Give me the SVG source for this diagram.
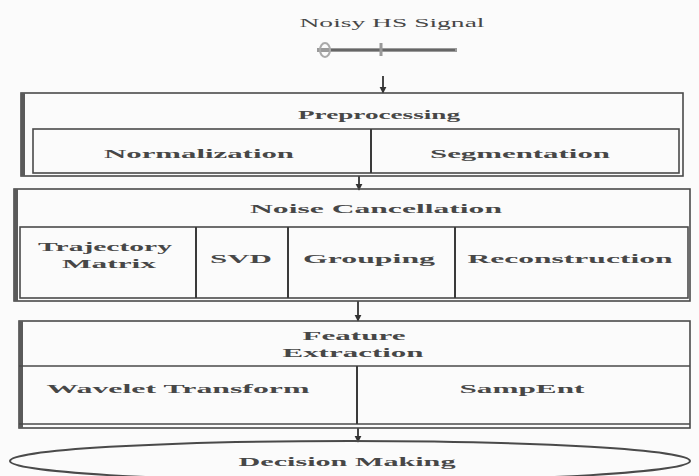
<svg xmlns="http://www.w3.org/2000/svg" width="699" height="476" viewBox="0 0 699 476">
<style>
.box{fill:none;stroke:#4a4a4a;stroke-width:1.6}
.edge{stroke:#5a5a5a;stroke-width:4}
.div{stroke:#3a3a3a;stroke-width:2}
.t{font-family:"Liberation Serif",serif;font-weight:bold;font-size:13px;fill:#474747;text-anchor:middle}
.c{stroke:#333;stroke-width:1.8;fill:none}
</style>
<defs>
<marker id="ah" viewBox="0 0 10 10" refX="9" refY="5" markerWidth="4" markerHeight="4" orient="auto"><path d="M0,0 L10,5 L0,10 z" fill="#333"/></marker>
</defs>
<rect width="699" height="476" fill="#fbfbfb"/>

<g id="signal">
<text class="t" x="392" y="27" textLength="185" lengthAdjust="spacingAndGlyphs" style="font-weight:normal">Noisy HS Signal</text>
<line x1="317" y1="50" x2="457" y2="50" stroke="#9a9a9a" stroke-width="4"/>
<line x1="330" y1="50" x2="455" y2="50" stroke="#555" stroke-width="1.5"/>
<ellipse cx="325" cy="50" rx="5" ry="7" fill="none" stroke="#aaa" stroke-width="2"/>
<line x1="381" y1="43" x2="381" y2="56" stroke="#999" stroke-width="3"/>
</g>

<g id="connectors">
<line class="c" x1="383" y1="76" x2="383" y2="93" marker-end="url(#ah)"/>
<line class="c" x1="359" y1="176" x2="359" y2="190" marker-end="url(#ah)"/>
<line class="c" x1="358" y1="301" x2="358" y2="321" marker-end="url(#ah)"/>
<line class="c" x1="358" y1="428" x2="358" y2="442" marker-end="url(#ah)"/>
</g>

<g id="preprocessing">
<rect class="box" x="21" y="93" width="662" height="83"/>
<line class="edge" x1="23" y1="93" x2="23" y2="176"/>
<rect class="box" x="33" y="129" width="646" height="44"/>
<line class="div" x1="371" y1="129" x2="371" y2="173"/>
<text class="t" x="379" y="119" textLength="162" lengthAdjust="spacingAndGlyphs">Preprocessing</text>
<text class="t" x="199" y="158" textLength="190" lengthAdjust="spacingAndGlyphs">Normalization</text>
<text class="t" x="520" y="158" textLength="180" lengthAdjust="spacingAndGlyphs">Segmentation</text>
</g>

<g id="noise-cancellation">
<rect class="box" x="14" y="189" width="676" height="112"/>
<line class="edge" x1="16" y1="189" x2="16" y2="301"/>
<rect class="box" x="20" y="227" width="668" height="71"/>
<line class="div" x1="196" y1="227" x2="196" y2="298"/>
<line class="div" x1="288" y1="227" x2="288" y2="298"/>
<line class="div" x1="455" y1="227" x2="455" y2="298"/>
<text class="t" x="376" y="213" textLength="252" lengthAdjust="spacingAndGlyphs">Noise Cancellation</text>
<text class="t" x="105" y="251" textLength="134" lengthAdjust="spacingAndGlyphs">Trajectory</text>
<text class="t" x="109" y="268" textLength="94" lengthAdjust="spacingAndGlyphs">Matrix</text>
<text class="t" x="241" y="263" textLength="62" lengthAdjust="spacingAndGlyphs">SVD</text>
<text class="t" x="369" y="263" textLength="132" lengthAdjust="spacingAndGlyphs">Grouping</text>
<text class="t" x="570" y="263" textLength="205" lengthAdjust="spacingAndGlyphs">Reconstruction</text>
</g>

<g id="feature-extraction">
<rect class="box" x="19" y="321" width="671" height="107"/>
<line class="edge" x1="21" y1="321" x2="21" y2="428"/>
<line class="box" x1="19" y1="366" x2="690" y2="366"/>
<line class="box" x1="19" y1="424" x2="690" y2="424"/>
<line class="div" x1="357" y1="366" x2="357" y2="424"/>
<text class="t" x="354" y="340" textLength="103" lengthAdjust="spacingAndGlyphs">Feature</text>
<text class="t" x="353" y="357" textLength="141" lengthAdjust="spacingAndGlyphs">Extraction</text>
<text class="t" x="178" y="393" textLength="263" lengthAdjust="spacingAndGlyphs">Wavelet Transform</text>
<text class="t" x="522" y="393" textLength="125" lengthAdjust="spacingAndGlyphs">SampEnt</text>
</g>

<g id="decision-making">
<ellipse cx="350" cy="461" rx="340" ry="20" fill="none" stroke="#4a4a4a" stroke-width="2"/>
<text class="t" x="347" y="466" textLength="217" lengthAdjust="spacingAndGlyphs">Decision Making</text>
</g>
</svg>
